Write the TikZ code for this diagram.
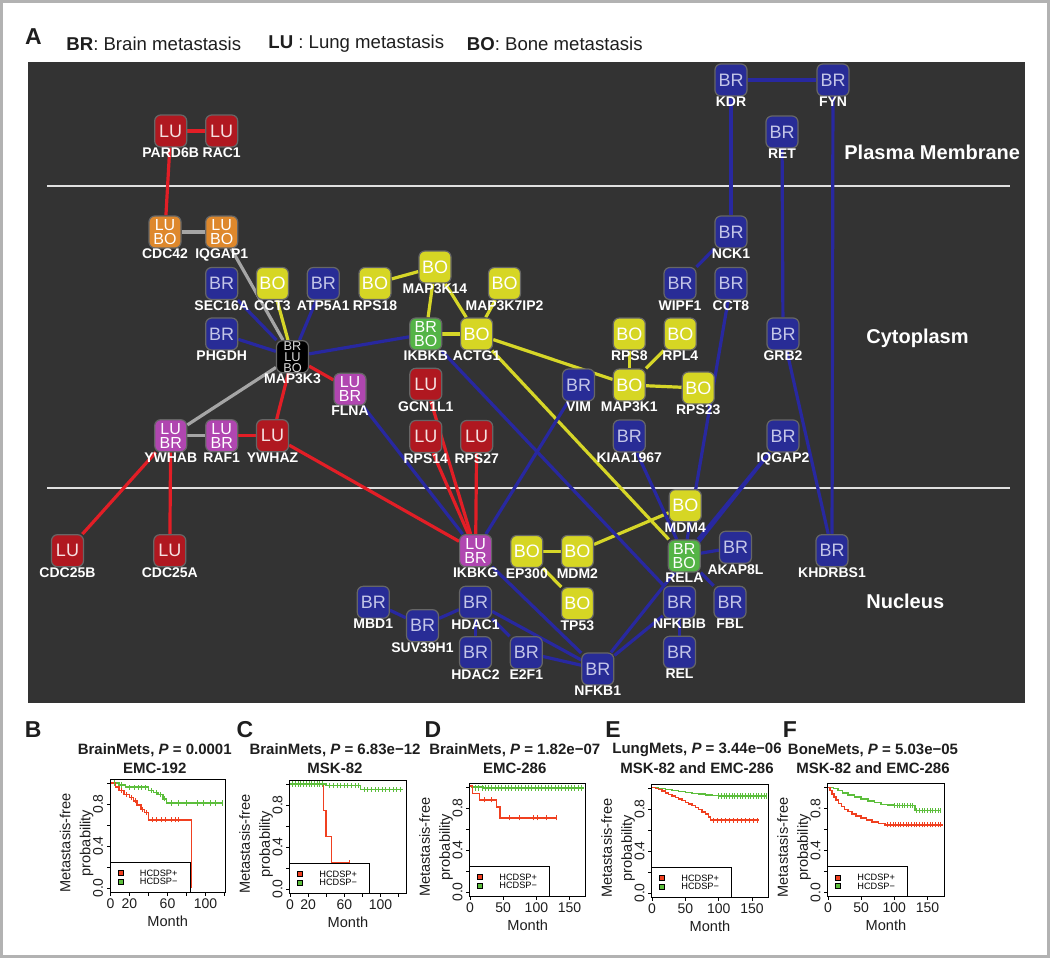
\documentclass[tikz,border=0pt]{standalone}
\usepackage{fontspec}
\setmainfont{Liberation Sans}
\pgfdeclarelayer{bg}
\pgfdeclarelayer{links}
\pgfsetlayers{bg,links,main}
\definecolor{panel}{RGB}{51,51,51}
\definecolor{headtext}{RGB}{30,30,30}
\definecolor{brblue}{RGB}{40,44,150}
\definecolor{brtext}{RGB}{196,198,232}
\definecolor{lured}{RGB}{176,24,32}
\definecolor{lutext}{RGB}{245,225,225}
\definecolor{boyellow}{RGB}{214,214,36}
\definecolor{luorange}{RGB}{222,136,44}
\definecolor{lumagenta}{RGB}{176,70,176}
\definecolor{brgreen}{RGB}{84,180,70}
\definecolor{redlink}{RGB}{226,30,38}
\definecolor{bluelink}{RGB}{40,40,160}
\definecolor{yellowlink}{RGB}{214,214,40}
\definecolor{graylink}{RGB}{165,165,165}
\definecolor{kmred}{RGB}{240,64,32}
\definecolor{kmgreen}{RGB}{92,190,60}

\begin{document}
\begin{tikzpicture}[x=0.5pt, y=-0.5pt,
  gene/.style={draw=gray!80!black, line width=0.6pt, rounded corners=3pt,
    minimum width=16pt, minimum height=16pt, inner sep=0pt, align=center,
    font=\fontsize{9}{9}\selectfont, label distance=3pt},
  br/.style={gene, fill=brblue, text=brtext},
  lu/.style={gene, fill=lured, text=lutext},
  bo/.style={gene, fill=boyellow, text=white},
  lubo/.style={gene, fill=luorange, text=white, font=\fontsize{8}{7}\selectfont},
  lubr/.style={gene, fill=lumagenta, text=white, font=\fontsize{8}{7}\selectfont},
  brbo/.style={gene, fill=brgreen, text=white, font=\fontsize{8}{7}\selectfont},
  allthree/.style={gene, fill=black, text=white!85!black, font=\fontsize{6.4}{5.5}\selectfont},
  genename/.style={text=white, inner sep=0pt, font=\bfseries\fontsize{7}{7}\selectfont},
  compart/.style={text=white, anchor=west, inner sep=0pt, font=\bfseries\fontsize{10}{10}\selectfont},
  link/.style={line width=1.6pt},
  lulink/.style={link, draw=redlink},
  brlink/.style={link, draw=bluelink},
  bolink/.style={link, draw=yellowlink},
  mixlink/.style={link, draw=graylink},
  keytext/.style={anchor=west, inner sep=0pt, text=headtext, font=\fontsize{9.3}{9.3}\selectfont},
  bigletter/.style={inner sep=0pt, text=headtext, font=\bfseries\fontsize{11.5}{11.5}\selectfont},
  plottitle/.style={inner sep=0pt, text=headtext, font=\bfseries\fontsize{7.5}{7.5}\selectfont},
  axislab/.style={inner sep=0pt, text=headtext, font=\fontsize{7.3}{10}\selectfont},
  ticklab/.style={inner sep=0pt, text=headtext, font=\fontsize{7}{7}\selectfont},
  legtext/.style={anchor=west, inner sep=0pt, font=\fontsize{4.6}{4.6}\selectfont},
  kmline/.style={line width=0.75pt},
  censor/.style={line width=0.45pt},
  axisline/.style={line width=0.5pt}]
\useasboundingbox (0,0) rectangle (1050,958);

% Page, dark panel and compartment borders
\begin{pgfonlayer}{bg}
  \fill[white] (0,0) rectangle (1050,958);
  \draw[gray!60, line width=1.5pt] (1.5,1.5) rectangle (1048.5,956.5);
  \fill[panel] (28,62) rectangle (1025,703);
  \draw[white!88!black, line width=0.8pt] (47,186) -- (1010,186);
  \draw[white!88!black, line width=0.8pt] (47,488) -- (1010,488);
\end{pgfonlayer}

% Key
\node[bigletter] (labA) at (33.5,37) {A};
\node[keytext] (keyBR) at (66,43.5) {\textbf{BR}: Brain metastasis};
\node[keytext] (keyLU) at (268,43.5) {\textbf{LU} : Lung metastasis};
\node[keytext] (keyBO) at (466.5,43.5) {\textbf{BO}: Bone metastasis};

% Compartments
\node[compart] (pm) at (844,152) {Plasma Membrane};
\node[compart] (cyto) at (866,338) {Cytoplasm};
\node[compart] (nuc) at (866,601) {Nucleus};

% Genes
\foreach \g/\ty/\tx/\x/\y in {
  PARD6B/lu/LU/170.7/131, RAC1/lu/LU/221.7/131,
  KDR/br/BR/731/80, FYN/br/BR/833/80, RET/br/BR/782/132,
  CDC42/lubo/{LU\\BO}/165/232, IQGAP1/lubo/{LU\\BO}/221.7/232, NCK1/br/BR/731/232,
  SEC16A/br/BR/221.7/283.5, CCT3/bo/BO/272.5/283.5, ATP5A1/br/BR/323.3/283.5,
  RPS18/bo/BO/375/283.5, MAP3K14/bo/BO/435/267, MAP3K7IP2/bo/BO/504.5/283.5,
  WIPF1/br/BR/680/283.5, CCT8/br/BR/731/283.5,
  PHGDH/br/BR/221.7/334, IKBKB/brbo/{BR\\BO}/425.8/334, ACTG1/bo/BO/476.6/334,
  RPS8/bo/BO/629.3/334, RPL4/bo/BO/680.3/334, GRB2/br/BR/783/334,
  MAP3K3/allthree/{BR\\LU\\BO}/292.5/356.7, FLNA/lubr/{LU\\BR}/350/389.3,
  GCN1L1/lu/LU/425.8/384.3, VIM/br/BR/578.5/385, MAP3K1/bo/BO/629.3/385,
  RPS23/bo/BO/698.3/388,
  YWHAB/lubr/{LU\\BR}/170.7/435.7, RAF1/lubr/{LU\\BR}/221.7/435.7, YWHAZ/lu/LU/272.5/435.7,
  RPS14/lu/LU/425.8/436.5, RPS27/lu/LU/476.7/436.5, KIAA1967/br/BR/629.3/436,
  IQGAP2/br/BR/783/436,
  MDM4/bo/BO/685.3/505.7, CDC25B/lu/LU/67.5/550.7, CDC25A/lu/LU/169.8/550.7,
  IKBKG/lubr/{LU\\BR}/475.6/550.7, EP300/bo/BO/526.8/551.5, MDM2/bo/BO/577.4/551.5,
  RELA/brbo/{BR\\BO}/684.3/556, AKAP8L/br/BR/735.5/547.3, KHDRBS1/br/BR/832/550.7,
  MBD1/br/BR/373.3/602.3, HDAC1/br/BR/475.5/602.3, TP53/bo/BO/577.4/603.6,
  NFKBIB/br/BR/679.5/602.3, FBL/br/BR/730/602.3, SUV39H1/br/BR/422.5/625.7,
  HDAC2/br/BR/475.5/652.7, E2F1/br/BR/526.3/652.7, REL/br/BR/679.5/652.3,
  NFKB1/br/BR/597.8/669}
  \node[\ty, label={[genename]below:\g}] (\g) at (\x,\y) {\tx};

% Interactions
\begin{pgfonlayer}{links}
  \foreach \a/\b in {PARD6B/RAC1, PARD6B/CDC42, MAP3K3/FLNA, MAP3K3/YWHAZ, RAF1/YWHAZ,
    YWHAB/CDC25B, YWHAB/CDC25A, YWHAZ/IKBKG, GCN1L1/IKBKG, RPS14/IKBKG, RPS27/IKBKG}
    \draw[lulink] (\a) -- (\b);
  \foreach \a/\b in {CDC42/IQGAP1, IQGAP1/MAP3K3, MAP3K3/YWHAB, YWHAB/RAF1}
    \draw[mixlink] (\a) -- (\b);
  \foreach \a/\b in {CCT3/MAP3K3, RPS18/MAP3K14, MAP3K14/IKBKB, MAP3K14/ACTG1,
    MAP3K7IP2/ACTG1, IKBKB/ACTG1, ACTG1/MAP3K1, ACTG1/RELA, MAP3K1/RPS8, MAP3K1/RPL4,
    MAP3K1/RPS23, MDM4/MDM2, MDM2/EP300, EP300/TP53}
    \draw[bolink] (\a) -- (\b);
  \foreach \a/\b in {KDR/FYN, KDR/NCK1, NCK1/WIPF1, RET/GRB2, GRB2/KHDRBS1, FYN/KHDRBS1,
    SEC16A/MAP3K3, ATP5A1/MAP3K3, PHGDH/MAP3K3, MAP3K3/IKBKB, IKBKB/NFKBIB, FLNA/IKBKG,
    VIM/IKBKG, IKBKG/NFKB1, CCT8/RELA, KIAA1967/RELA, IQGAP2/RELA, IQGAP2/NFKB1,
    AKAP8L/RELA, RELA/FBL, NFKB1/NFKBIB, NFKBIB/REL, MBD1/SUV39H1, SUV39H1/HDAC1,
    HDAC1/HDAC2, HDAC1/E2F1, HDAC1/NFKB1, E2F1/NFKB1}
    \draw[brlink] (\a) -- (\b);
\end{pgfonlayer}

% Survival curves (x: month, y: probability)
\begin{scope}[shift={(110.5,888)}, xscale=0.95, yscale=-105]
  \draw[kmline, kmgreen] plot[const plot] coordinates {(0,1) (9,0.98) (16,0.96) (40,0.93) (45,0.91) (50,0.89) (55,0.85) (59,0.81) (118,0.81)};
  \draw[kmline, kmred] plot[const plot] coordinates {(0,1) (5,0.96) (9,0.93) (14,0.89) (20,0.86) (24,0.83) (28,0.79) (32,0.75) (36,0.72) (40,0.65) (85,0.65) (85,0)};
  \foreach \m/\p in {4/1, 12/0.98, 20/0.96, 25/0.96, 29/0.96, 33/0.96, 37/0.96, 43/0.93, 48/0.91, 53/0.89, 57/0.85, 64/0.81, 72/0.81, 80/0.81, 92/0.81, 98/0.81, 105/0.81, 110/0.81, 118/0.81}
    \draw[censor, kmgreen] (\m,\p-0.025) -- (\m,\p+0.025);
  \foreach \m/\p in {11/0.93, 17/0.89, 22/0.86, 26/0.83, 34/0.75, 38/0.72, 44/0.65, 48/0.65, 54/0.65, 58/0.65, 64/0.65, 68/0.65, 72/0.65}
    \draw[censor, kmred] (\m,\p-0.025) -- (\m,\p+0.025);
\end{scope}
\begin{scope}[shift={(290,889)}, xscale=0.905, yscale=-105]
  \draw[kmline, kmred] plot[const plot] coordinates {(0,1) (37,0.75) (40,0.5) (46,0.25) (66,0.25)};
  \draw[kmline, kmgreen] plot[const plot] coordinates {(0,1) (40,0.985) (78,0.95) (125,0.95)};
  \foreach \m in {3,6,...,36} \draw[censor, kmgreen] (\m,0.975) -- (\m,1.025);
  \foreach \m in {44,48,...,76} \draw[censor, kmgreen] (\m,0.96) -- (\m,1.01);
  \foreach \m in {82,86,...,122} \draw[censor, kmgreen] (\m,0.925) -- (\m,0.975);
  \draw[censor, kmred] (66,0.225) -- (66,0.275);
\end{scope}
\begin{scope}[shift={(470,892)}, xscale=0.664, yscale=-106]
  \draw[kmline, kmgreen] plot[const plot] coordinates {(0,1) (3,0.99) (20,0.98) (171,0.98)};
  \draw[kmline, kmred] plot[const plot] coordinates {(0,1) (4,0.93) (14,0.87) (40,0.80) (45,0.70) (130,0.70)};
  \foreach \m in {8,13,...,171} \draw[censor, kmgreen] (\m,0.955) -- (\m,1.005);
  \foreach \m/\p in {22/0.87, 32/0.87, 60/0.70, 75/0.70, 95/0.70, 102/0.70, 115/0.70, 130/0.70}
    \draw[censor, kmred] (\m,\p-0.025) -- (\m,\p+0.025);
\end{scope}
\begin{scope}[shift={(652,893)}, xscale=0.667, yscale=-105.5]
  \draw[kmline, kmgreen] plot[const plot] coordinates {(0,1) (10,0.99) (20,0.98) (30,0.97) (40,0.96) (50,0.955) (60,0.945) (70,0.94) (80,0.93) (90,0.925) (100,0.92) (172,0.92)};
  \draw[kmline, kmred] plot[const plot] coordinates {(0,1) (5,0.99) (10,0.98) (15,0.965) (20,0.95) (25,0.935) (30,0.92) (35,0.905) (40,0.89) (45,0.875) (50,0.86) (55,0.845) (60,0.83) (65,0.81) (70,0.79) (75,0.77) (80,0.75) (85,0.72) (88,0.69) (160,0.69)};
  \foreach \m in {100,104,...,172} \draw[censor, kmgreen] (\m,0.895) -- (\m,0.945);
  \foreach \m in {92,98,...,160} \draw[censor, kmred] (\m,0.665) -- (\m,0.715);
\end{scope}
\begin{scope}[shift={(828,892.5)}, xscale=0.663, yscale=-105]
  \draw[kmline, kmgreen] plot[const plot] coordinates {(0,1) (8,0.99) (15,0.97) (22,0.95) (30,0.93) (40,0.91) (50,0.89) (60,0.87) (70,0.855) (80,0.84) (90,0.835) (100,0.83) (131,0.78) (170,0.78)};
  \draw[kmline, kmred] plot[const plot] coordinates {(0,1) (3,0.97) (6,0.94) (9,0.91) (12,0.88) (16,0.85) (20,0.82) (25,0.79) (30,0.77) (36,0.75) (42,0.73) (50,0.71) (58,0.69) (66,0.67) (76,0.655) (86,0.645) (173,0.645)};
  \foreach \m in {100,104,...,128} \draw[censor, kmgreen] (\m,0.805) -- (\m,0.855);
  \foreach \m in {134,138,...,170} \draw[censor, kmgreen] (\m,0.755) -- (\m,0.805);
  \foreach \m in {90,94,...,172} \draw[censor, kmred] (\m,0.62) -- (\m,0.67);
\end{scope}

% Frames, axes, titles and legends of the five panels
\foreach \pn/\lx/\xo/\xs/\xr/\yo/\xt/\xl/\ttl/\sub in {
  B/33.3/110.5/0.95/225/888/{0,20,...,120}/{0,20,60,100}/{BrainMets, \textit{P} = 0.0001}/{EMC-192},
  C/245/290/0.905/406/889/{0,20,...,120}/{0,20,60,100}/{BrainMets, \textit{P} = 6.83e−12}/{MSK-82},
  D/433/470/0.664/585.5/892/{0,50,100,150}/{0,50,100,150}/{BrainMets, \textit{P} = 1.82e−07}/{EMC-286},
  E/613/652/0.667/768/893/{0,50,100,150}/{0,50,100,150}/{LungMets, \textit{P} = 3.44e−06}/{MSK-82 and EMC-286},
  F/790/828/0.663/944/892.5/{0,50,100,150}/{0,50,100,150}/{BoneMets, \textit{P} = 5.03e−05}/{MSK-82 and EMC-286}}{
  \node[bigletter] (lab\pn) at (\lx,730) {\pn};
  \node[plottitle] (ttl\pn) at ({(\xo+\xr)/2-13},750) {\ttl};
  \node[plottitle] (sub\pn) at ({(\xo+\xr)/2-13},768) {\sub};
  \draw[axisline] (\xo-0.5,\yo+4) rectangle (\xr,\yo-109);
  \foreach \yp in {0,0.2,0.4,0.6,0.8,1}
    \draw[axisline] (\xo-0.5,\yo-\yp*105) -- ++(-3.5,0);
  \foreach \yp/\ytxt [count=\i] in {0/0.0,0.4/0.4,0.8/0.8}
    \node[ticklab, rotate=90, anchor=south] (ytl\pn\i) at (\xo-7,\yo-\yp*105) {\ytxt};
  \foreach \xtk in \xt
    \draw[axisline] (\xo+\xtk*\xs,\yo+4) -- ++(0,3.5);
  \foreach \xtk [count=\i] in \xl
    \node[ticklab, anchor=north] (xtl\pn\i) at (\xo+\xtk*\xs,\yo+10) {\xtk};
  \node[axislab] (mon\pn) at ({(\xo+\xr)/2},\yo+33) {Month};
  \node[axislab, rotate=90, align=center] (ylab\pn) at (\xo-34,\yo-45) {Metastasis-free\\probability};
  \draw[axisline, fill=white] (\xo-0.5,\yo+4) rectangle ++(80,-30);
  \draw[line width=0.4pt, fill=kmred] (\xo+7.5,\yo-17.5) rectangle ++(5,5);
  \draw[line width=0.4pt, fill=kmgreen] (\xo+7.5,\yo-9) rectangle ++(5,5);
  \node[legtext] (lp\pn) at (\xo+29,\yo-15) {HCDSP+};
  \node[legtext] (lm\pn) at (\xo+29,\yo-6.5) {HCDSP−};
}
\end{tikzpicture}
\end{document}
